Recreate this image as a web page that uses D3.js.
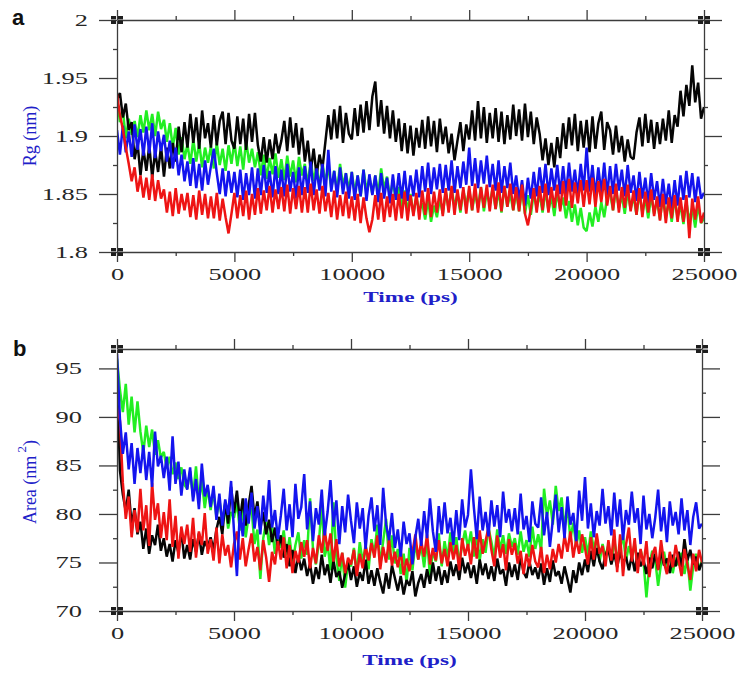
<!DOCTYPE html>
<html>
<head>
<meta charset="utf-8">
<script src="https://cdn.jsdelivr.net/npm/d3@7"></script>
<style>
body { margin: 0; background: #fff; }
svg { display: block; }
</style>
</head>
<body>
<svg width="750" height="675"></svg>
<script>
// sampling grid (ps)
const times = d3.range(0, 25001, 125);

const xTicks = [0, 5000, 10000, 15000, 20000, 25000];
const xMinor = [2500, 7500, 12500, 17500, 22500];
const rgTicks = [1.8, 1.85, 1.9, 1.95, 2];
const rgMinor = [1.825, 1.875, 1.925, 1.975];
const areaTicks = [70, 75, 80, 85, 90, 95];
const areaMinor = [72.5, 77.5, 82.5, 87.5, 92.5];

// panel a: Rg (nm)
const rgBlack = [
  1.932,1.937,1.916,1.928,1.905,1.912,1.880,1.894,
  1.866,1.889,1.870,1.892,1.864,1.887,1.869,1.891,
  1.865,1.890,1.872,1.894,1.878,1.908,1.886,1.912,
  1.890,1.919,1.894,1.916,1.889,1.922,1.898,1.911,
  1.890,1.918,1.892,1.913,1.921,1.893,1.920,1.896,
  1.889,1.917,1.893,1.915,1.888,1.919,1.895,1.920,
  1.892,1.878,1.899,1.877,1.897,1.880,1.902,1.885,
  1.896,1.913,1.887,1.916,1.890,1.911,1.884,1.907,
  1.878,1.896,1.870,1.889,1.866,1.884,1.872,1.895,
  1.918,1.897,1.923,1.898,1.926,1.894,1.920,1.902,
  1.897,1.924,1.900,1.927,1.903,1.930,1.905,1.934,
  1.947,1.908,1.931,1.902,1.926,1.898,1.922,1.895,
  1.915,1.887,1.911,1.885,1.909,1.883,1.907,1.890,
  1.914,1.889,1.917,1.891,1.913,1.886,1.915,1.893,
  1.908,1.885,1.902,1.879,1.896,1.912,1.887,1.910,
  1.897,1.922,1.896,1.930,1.898,1.925,1.894,1.920,
  1.898,1.924,1.895,1.921,1.893,1.918,1.897,1.927,
  1.900,1.923,1.896,1.928,1.899,1.921,1.893,1.916,
  1.902,1.879,1.898,1.875,1.894,1.873,1.899,1.881,
  1.911,1.889,1.916,1.892,1.919,1.887,1.913,1.890,
  1.914,1.886,1.917,1.889,1.911,1.921,1.888,1.912,
  1.905,1.884,1.909,1.886,1.900,1.878,1.897,1.882,
  1.880,1.903,1.916,1.891,1.919,1.894,1.914,1.889,
  1.912,1.893,1.915,1.896,1.922,1.894,1.918,1.908,
  1.939,1.917,1.944,1.926,1.961,1.929,1.946,1.915,
  1.925];
const rgGreen = [
  1.934,1.912,1.922,1.898,1.915,1.901,1.913,1.899,
  1.918,1.903,1.922,1.905,1.919,1.900,1.921,1.906,
  1.914,1.895,1.911,1.890,1.907,1.884,1.899,1.880,
  1.893,1.876,1.897,1.878,1.894,1.873,1.890,1.877,
  1.891,1.872,1.894,1.875,1.889,1.870,1.892,1.876,
  1.895,1.874,1.891,1.871,1.896,1.877,1.889,1.873,
  1.886,1.866,1.884,1.863,1.881,1.867,1.885,1.864,
  1.880,1.862,1.883,1.865,1.879,1.860,1.882,1.866,
  1.876,1.858,1.879,1.861,1.874,1.856,1.877,1.860,
  1.873,1.855,1.870,1.852,1.876,1.857,1.868,1.854,
  1.869,1.851,1.866,1.848,1.871,1.853,1.864,1.850,
  1.866,1.850,1.872,1.854,1.865,1.847,1.861,1.845,
  1.856,1.838,1.853,1.835,1.850,1.833,1.847,1.836,
  1.842,1.828,1.845,1.826,1.840,1.830,1.846,1.833,
  1.852,1.837,1.855,1.839,1.850,1.834,1.853,1.840,
  1.854,1.836,1.851,1.838,1.856,1.835,1.852,1.841,
  1.855,1.837,1.853,1.834,1.857,1.839,1.850,1.836,
  1.852,1.835,1.854,1.833,1.849,1.832,1.851,1.838,
  1.850,1.834,1.853,1.836,1.848,1.831,1.852,1.837,
  1.847,1.829,1.844,1.826,1.841,1.823,1.838,1.821,
  1.818,1.834,1.822,1.839,1.826,1.843,1.830,1.847,
  1.851,1.836,1.854,1.838,1.849,1.833,1.852,1.837,
  1.848,1.832,1.851,1.834,1.846,1.829,1.849,1.833,
  1.845,1.828,1.848,1.831,1.843,1.826,1.846,1.830,
  1.840,1.824,1.843,1.827,1.838,1.821,1.841,1.825,
  1.829];
const rgBlue = [
  1.905,1.884,1.909,1.886,1.904,1.882,1.910,1.888,
  1.906,1.883,1.908,1.885,1.911,1.881,1.904,1.887,
  1.901,1.878,1.896,1.872,1.890,1.866,1.884,1.861,
  1.878,1.857,1.881,1.855,1.876,1.853,1.879,1.858,
  1.874,1.889,1.868,1.850,1.872,1.848,1.870,1.851,
  1.869,1.847,1.871,1.845,1.868,1.849,1.873,1.846,
  1.872,1.849,1.875,1.851,1.870,1.847,1.874,1.850,
  1.871,1.848,1.876,1.852,1.869,1.846,1.873,1.849,
  1.874,1.851,1.878,1.849,1.872,1.853,1.876,1.848,
  1.888,1.852,1.870,1.847,1.873,1.850,1.868,1.846,
  1.869,1.845,1.866,1.848,1.871,1.844,1.867,1.849,
  1.866,1.843,1.868,1.846,1.864,1.842,1.867,1.845,
  1.868,1.846,1.870,1.844,1.866,1.848,1.871,1.847,
  1.874,1.852,1.877,1.850,1.873,1.854,1.876,1.851,
  1.875,1.853,1.879,1.851,1.874,1.855,1.878,1.858,
  1.890,1.857,1.881,1.855,1.879,1.859,1.883,1.856,
  1.876,1.853,1.879,1.851,1.874,1.855,1.877,1.850,
  1.866,1.845,1.862,1.840,1.864,1.846,1.869,1.848,
  1.873,1.851,1.876,1.849,1.872,1.853,1.875,1.850,
  1.874,1.850,1.877,1.852,1.871,1.849,1.876,1.853,
  1.890,1.852,1.875,1.848,1.873,1.851,1.877,1.849,
  1.874,1.850,1.876,1.853,1.871,1.848,1.875,1.851,
  1.866,1.844,1.869,1.846,1.864,1.842,1.868,1.845,
  1.861,1.839,1.863,1.841,1.859,1.837,1.862,1.840,
  1.866,1.845,1.870,1.847,1.868,1.843,1.865,1.846,
  1.851];
const rgRed = [
  1.936,1.918,1.906,1.890,1.876,1.861,1.873,1.852,
  1.866,1.847,1.864,1.845,1.867,1.844,1.862,1.846,
  1.854,1.834,1.852,1.831,1.855,1.833,1.850,1.836,
  1.851,1.830,1.849,1.828,1.853,1.832,1.850,1.829,
  1.848,1.829,1.851,1.827,1.846,1.830,1.816,1.833,
  1.851,1.829,1.849,1.831,1.853,1.828,1.850,1.832,
  1.855,1.833,1.853,1.836,1.857,1.834,1.854,1.837,
  1.856,1.835,1.858,1.833,1.855,1.837,1.857,1.834,
  1.856,1.834,1.859,1.836,1.854,1.833,1.857,1.835,
  1.851,1.830,1.853,1.828,1.849,1.831,1.852,1.829,
  1.848,1.827,1.850,1.825,1.847,1.829,1.817,1.828,
  1.849,1.828,1.851,1.826,1.848,1.830,1.850,1.827,
  1.850,1.829,1.852,1.827,1.849,1.831,1.851,1.828,
  1.853,1.832,1.855,1.830,1.852,1.834,1.854,1.831,
  1.855,1.834,1.857,1.832,1.854,1.836,1.856,1.833,
  1.857,1.836,1.859,1.834,1.856,1.838,1.858,1.835,
  1.858,1.837,1.860,1.835,1.857,1.839,1.859,1.836,
  1.856,1.835,1.858,1.833,1.823,1.837,1.855,1.834,
  1.857,1.836,1.859,1.834,1.856,1.838,1.858,1.835,
  1.861,1.840,1.863,1.838,1.860,1.842,1.862,1.839,
  1.862,1.841,1.864,1.839,1.861,1.843,1.863,1.840,
  1.857,1.836,1.859,1.834,1.856,1.838,1.858,1.835,
  1.853,1.832,1.855,1.830,1.852,1.834,1.854,1.831,
  1.848,1.827,1.850,1.825,1.847,1.829,1.849,1.826,
  1.847,1.826,1.849,1.812,1.846,1.828,1.848,1.825,
  1.834];

// panel b: Area (nm^2)
const areaBlack = [
  95.0,84.5,82.0,80.3,82.5,78.8,80.6,77.9,
  79.2,76.4,78.5,75.9,77.8,76.8,78.9,76.2,
  77.5,75.6,76.9,75.1,77.3,76.0,78.2,75.4,
  76.8,75.3,77.4,76.1,78.0,75.8,77.2,76.5,
  77.6,76.3,78.4,79.7,77.9,81.2,79.0,82.8,
  80.1,82.4,79.3,81.6,78.8,80.9,82.9,79.6,
  81.3,78.5,80.2,77.9,79.4,77.1,78.6,76.4,
  77.8,75.5,76.9,74.6,76.3,73.9,75.7,74.2,
  75.4,73.6,74.9,72.8,74.5,73.3,75.8,73.7,
  74.8,72.9,75.2,73.5,74.1,72.4,73.8,75.0,
  73.2,74.6,72.5,74.0,73.1,75.3,72.8,74.2,
  72.6,74.4,73.0,71.8,73.9,72.3,74.7,73.4,
  72.1,73.6,71.7,73.2,72.6,74.1,71.5,72.9,
  73.8,72.4,74.3,72.8,75.0,73.1,74.6,72.7,
  74.2,72.9,75.1,73.6,74.8,73.2,75.5,73.9,
  75.0,73.4,74.7,72.8,75.3,73.7,74.9,73.3,
  74.6,73.1,75.4,73.8,74.3,72.6,75.0,73.5,
  74.8,73.2,75.6,74.0,73.4,75.1,73.7,74.5,
  73.3,74.9,72.7,74.4,73.0,75.2,73.6,74.1,
  72.8,74.6,73.3,71.9,74.2,72.9,75.0,73.7,
  75.3,74.0,76.2,74.6,76.5,75.1,74.3,75.8,
  76.4,74.8,75.9,74.5,76.1,74.9,75.6,74.2,
  75.7,74.1,76.0,74.6,75.3,73.8,75.5,74.4,
  75.9,74.3,76.2,74.7,75.4,73.9,75.8,74.6,
  76.1,74.5,77.4,75.2,76.3,74.8,75.6,74.2,
  75.0];
const areaGreen = [
  96.0,92.8,90.5,93.4,89.2,92.1,88.4,91.6,
  88.5,86.3,89.1,86.9,88.7,86.1,87.6,85.8,
  86.4,84.7,85.9,84.1,85.3,83.6,84.8,83.0,
  82.6,84.4,81.8,84.9,81.2,83.5,80.6,82.8,
  80.4,82.3,79.7,81.5,79.1,81.0,78.5,80.2,
  79.6,81.2,78.3,80.5,77.6,79.8,80.6,76.9,
  78.4,73.3,77.5,79.2,76.8,78.7,75.9,77.8,
  76.5,78.3,75.7,77.6,74.9,76.8,78.1,75.4,
  77.3,75.8,81.6,76.4,74.8,77.0,80.9,75.6,
  76.9,74.2,81.2,75.5,73.1,76.0,72.4,75.1,
  74.6,76.5,73.8,77.1,75.0,76.8,74.3,77.4,
  75.8,78.9,74.7,77.2,79.5,75.3,77.8,74.9,
  76.4,73.8,75.9,72.9,76.5,74.2,77.0,75.3,
  76.8,74.5,77.4,73.6,76.2,75.1,78.0,74.6,
  77.2,75.4,78.1,76.0,77.6,74.9,76.8,78.3,
  76.5,78.2,75.6,77.9,75.2,77.4,76.0,78.6,
  77.1,75.5,78.4,76.3,77.8,75.9,78.0,76.6,
  77.5,75.8,78.2,76.1,77.3,75.6,78.7,76.4,
  77.9,76.2,82.6,79.8,81.4,78.9,82.9,80.3,
  81.7,78.6,80.8,77.4,79.1,76.7,78.3,76.0,
  77.6,75.8,78.2,76.4,77.5,75.1,76.9,75.6,
  76.8,74.9,77.3,75.5,76.4,77.8,75.2,76.7,
  75.4,77.0,74.6,76.3,75.1,71.4,74.8,76.2,
  75.3,72.6,74.9,76.1,74.4,75.8,73.9,75.5,
  74.7,76.0,73.8,75.4,72.1,74.6,75.9,74.3,
  75.2];
const areaBlue = [
  96.5,89.8,86.2,88.4,84.6,87.3,83.1,86.8,
  84.2,87.1,83.5,86.4,82.8,88.5,84.9,86.0,
  83.7,85.9,82.4,88.0,83.1,85.4,81.9,84.6,
  82.5,84.8,81.3,83.6,80.5,85.2,81.8,83.0,
  80.7,82.9,79.4,82.1,78.8,81.5,79.9,83.4,
  78.2,73.6,80.3,77.7,81.6,79.0,82.2,78.5,
  80.8,77.9,81.9,79.2,83.5,78.6,80.4,77.4,
  79.8,82.6,78.3,81.0,77.6,83.1,79.5,80.7,
  84.1,78.4,81.3,77.2,80.6,78.9,82.5,77.8,
  80.2,83.5,78.7,81.4,76.9,80.8,78.1,82.0,
  79.3,77.0,81.2,78.5,80.6,76.4,79.8,81.7,
  78.2,80.9,76.8,82.7,78.9,77.3,80.1,76.5,
  78.4,75.6,79.2,76.9,78.0,74.8,77.6,79.5,
  76.7,80.3,77.5,81.6,78.2,76.1,80.8,77.9,
  81.2,78.0,79.6,76.8,80.4,77.3,81.5,78.6,
  79.9,84.6,80.7,77.4,81.8,78.3,80.2,77.7,
  81.4,78.7,80.9,77.6,82.3,79.1,80.5,78.2,
  80.6,77.9,82.1,78.4,79.8,77.1,81.3,79.0,
  78.6,81.7,77.8,80.2,76.6,79.4,82.0,78.1,
  80.7,77.5,81.8,78.9,80.1,77.2,82.4,79.3,
  83.8,78.5,81.1,77.6,80.3,78.8,82.6,79.0,
  80.8,77.8,82.2,78.7,81.5,77.3,80.4,78.9,
  82.3,79.1,80.6,76.9,81.9,78.4,80.0,77.5,
  79.6,82.5,78.2,80.7,77.1,81.3,78.8,80.2,
  77.9,81.6,78.3,80.4,76.8,79.7,81.2,78.5,
  79.0];
const areaRed = [
  91.0,89.6,83.2,79.5,81.8,77.6,80.4,78.1,
  82.6,78.3,80.9,76.7,83.2,79.4,81.1,77.5,
  80.2,77.3,81.5,76.6,79.8,75.4,78.7,76.9,
  78.9,76.1,79.6,75.5,78.2,76.8,80.1,75.9,
  77.4,75.2,78.6,74.9,77.9,75.7,76.8,74.5,
  76.9,78.2,75.3,77.5,74.6,76.4,78.0,75.1,
  76.6,74.2,77.3,75.5,73.0,76.1,74.8,77.2,
  75.3,77.6,74.4,76.8,73.9,76.2,75.0,77.1,
  75.6,77.3,74.4,76.5,74.9,77.8,76.0,78.4,
  76.2,78.0,75.1,77.4,74.6,76.0,73.9,75.5,
  74.8,76.3,73.6,75.9,74.4,76.7,75.2,77.0,
  75.5,77.8,74.3,76.6,75.0,77.4,74.7,76.1,
  74.5,76.2,73.7,75.4,74.1,76.0,77.9,75.3,
  77.2,75.6,77.9,74.8,76.5,75.2,77.3,74.9,
  76.4,74.6,77.1,75.3,76.8,74.2,77.5,75.7,
  76.9,74.8,77.6,75.4,78.3,75.9,77.2,78.6,
  76.3,74.6,77.8,75.5,76.9,74.2,77.4,75.8,
  77.0,74.9,76.2,73.8,75.9,74.6,76.8,75.1,
  74.5,76.6,73.9,75.8,74.3,76.4,75.0,76.9,
  75.4,77.8,76.1,78.2,75.5,77.4,75.9,77.9,
  76.5,74.8,77.6,75.3,78.0,75.9,76.7,74.6,
  77.3,75.2,78.4,74.0,77.9,73.6,76.8,78.6,
  75.1,77.5,73.9,76.4,74.7,77.2,73.5,75.8,
  76.6,74.2,77.3,75.0,73.8,76.1,74.5,76.8,
  75.2,73.6,76.4,74.8,73.2,75.9,74.1,76.3,
  75.0];

const colors = { black: "#050505", green: "#22ee22", blue: "#1414ee", red: "#ee1414" };
const labelBlue = "#2020c8";
const axisColor = "#3c3c3c";
const serif = "'Liberation Serif', 'Times New Roman', serif";

const svg = d3.select("svg");

function panel(cfg) {
  const x = d3.scaleLinear().domain([0, 25000]).range(cfg.xr);
  const y = d3.scaleLinear().domain(cfg.yd).range(cfg.yr);
  const g = svg.append("g");

  g.append("clipPath").attr("id", "clip-" + cfg.letter)
    .append("rect")
    .attr("x", cfg.xr[0]).attr("y", cfg.yr[1])
    .attr("width", cfg.xr[1] - cfg.xr[0]).attr("height", cfg.yr[0] - cfg.yr[1]);

  const line = d3.line().x((d, i) => x(times[i])).y(d => y(d));

  g.append("g").attr("clip-path", `url(#clip-${cfg.letter})`)
    .selectAll("path")
    .data(cfg.series)
    .join("path")
    .attr("fill", "none")
    .attr("stroke", d => d.color)
    .attr("stroke-width", 2.5)
    .attr("stroke-linejoin", "bevel")
    .attr("d", d => line(d.values));

  // major axes
  const bottom = g.append("g").attr("transform", `translate(0,${cfg.yr[0]})`)
    .call(d3.axisBottom(x).tickValues(xTicks).tickSize(10).tickSizeOuter(0).tickFormat(d => d));
  const top = g.append("g").attr("transform", `translate(0,${cfg.yr[1]})`)
    .call(d3.axisTop(x).tickValues(xTicks).tickSize(10).tickSizeOuter(0).tickFormat(""));
  const left = g.append("g").attr("transform", `translate(${cfg.xr[0]},0)`)
    .call(d3.axisLeft(y).tickValues(cfg.yTicks).tickSize(18).tickSizeOuter(0).tickFormat(d => d));
  const right = g.append("g").attr("transform", `translate(${cfg.xr[1]},0)`)
    .call(d3.axisRight(y).tickValues(cfg.yTicks).tickSize(18).tickSizeOuter(0).tickFormat(""));

  // minor ticks
  const minors = [
    g.append("g").attr("transform", `translate(0,${cfg.yr[0]})`).call(d3.axisBottom(x).tickValues(xMinor).tickSize(4).tickFormat("")),
    g.append("g").attr("transform", `translate(0,${cfg.yr[1]})`).call(d3.axisTop(x).tickValues(xMinor).tickSize(4).tickFormat("")),
    g.append("g").attr("transform", `translate(${cfg.xr[0]},0)`).call(d3.axisLeft(y).tickValues(cfg.yMinor).tickSize(4).tickFormat("")),
    g.append("g").attr("transform", `translate(${cfg.xr[1]},0)`).call(d3.axisRight(y).tickValues(cfg.yMinor).tickSize(4).tickFormat(""))
  ];
  minors.forEach(m => m.select(".domain").remove());

  [bottom, top, left, right, ...minors].forEach(a => {
    a.selectAll("path, line").attr("stroke", axisColor).attr("stroke-width", 1.3);
  });

  bottom.selectAll("text")
    .attr("dy", null).attr("y", 28)
    .attr("transform", "scale(1.65,1)")
    .attr("fill", "#262626")
    .style("font-family", serif).style("font-size", "16px");

  left.selectAll("text")
    .attr("x", null)
    .attr("transform", `translate(${cfg.labelRight - cfg.xr[0]},0) scale(1.65,1)`)
    .attr("fill", "#262626")
    .style("font-family", serif).style("font-size", "16px");

  // corner markers
  const corners = [[cfg.xr[0], cfg.yr[0]], [cfg.xr[0], cfg.yr[1]], [cfg.xr[1], cfg.yr[0]], [cfg.xr[1], cfg.yr[1]]];
  corners.forEach(([cx, cy]) => {
    [[-6, -4], [1, -4], [-6, 0.6], [1, 0.6]].forEach(([dx, dy]) => {
      g.append("rect").attr("x", cx + dx).attr("y", cy + dy)
        .attr("width", 5).attr("height", 3.4).attr("fill", "#1e1e1e");
    });
  });

  // x title
  const xc = (cfg.xr[0] + cfg.xr[1]) / 2;
  g.append("text")
    .attr("transform", `translate(${xc},${cfg.xTitleY}) scale(1.55,1)`)
    .attr("text-anchor", "middle")
    .attr("fill", labelBlue)
    .style("font-family", serif).style("font-size", "15px").style("font-weight", "bold")
    .text("Time (ps)");

  // y title
  const yt = g.append("text")
    .attr("transform", `translate(${cfg.yTitle[0]},${cfg.yTitle[1]}) rotate(-90)`)
    .attr("text-anchor", "middle")
    .attr("dominant-baseline", "central")
    .attr("fill", labelBlue)
    .style("font-family", serif).style("font-size", "18px");
  cfg.yTitleParts(yt);

  // panel letter
  g.append("text")
    .attr("x", cfg.letterPos[0]).attr("y", cfg.letterPos[1])
    .style("font-family", "'Liberation Sans', Arial, sans-serif")
    .style("font-size", "22px").style("font-weight", "bold")
    .attr("fill", "#111")
    .text(cfg.letter);
}

panel({
  letter: "a",
  xr: [117, 704], yr: [252, 20], yd: [1.8, 2.0],
  yTicks: rgTicks, yMinor: rgMinor,
  labelRight: 88, xTitleY: 302,
  yTitle: [30, 136],
  yTitleParts: t => t.text("Rg (nm)"),
  letterPos: [12, 25],
  series: [
    { color: colors.green, values: rgGreen },
    { color: colors.black, values: rgBlack },
    { color: colors.blue, values: rgBlue },
    { color: colors.red, values: rgRed }
  ]
});

panel({
  letter: "b",
  xr: [117, 702], yr: [611, 349], yd: [70, 97],
  yTicks: areaTicks, yMinor: areaMinor,
  labelRight: 82, xTitleY: 665,
  yTitle: [30, 482],
  yTitleParts: t => {
    t.append("tspan").text("Area (nm");
    t.append("tspan").attr("dy", -9).style("font-size", "13px").text(" 2");
    t.append("tspan").attr("dy", 9).text(")");
  },
  letterPos: [13, 356],
  series: [
    { color: colors.green, values: areaGreen },
    { color: colors.black, values: areaBlack },
    { color: colors.red, values: areaRed },
    { color: colors.blue, values: areaBlue }
  ]
});
</script>
</body>
</html>
